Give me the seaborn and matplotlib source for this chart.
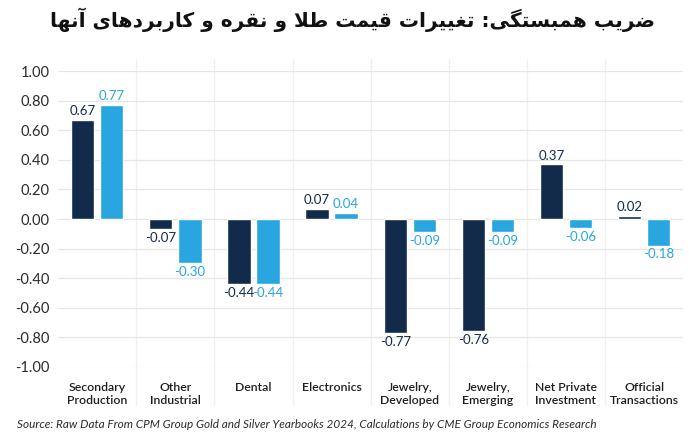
import matplotlib
matplotlib.use("Agg")
import matplotlib.pyplot as plt
import matplotlib.transforms as mtransforms
import seaborn as sns
import pandas as pd

# data
categories = ["Secondary\nProduction", "Other\nIndustrial", "Dental", "Electronics",
              "Jewelry,\nDeveloped", "Jewelry,\nEmerging", "Net Private\nInvestment",
              "Official\nTransactions"]
gold_corr = [0.67, -0.07, -0.44, 0.07, -0.77, -0.76, 0.37, 0.02]
silver_corr = [0.77, -0.30, -0.44, 0.04, -0.09, -0.09, -0.06, -0.18]
y_ticks = [1.0, 0.8, 0.6, 0.4, 0.2, 0.0, -0.2, -0.4, -0.6, -0.8, -1.0]

title_fa = "ضریب همبستگی: تغییرات قیمت طلا و نقره و کاربردهای آنها"
source_text = ("Source: Raw Data From CPM Group Gold and Silver Yearbooks 2024, "
               "Calculations by CME Group Economics Research")

DARK = "#132b4b"
LIGHT = "#29a6df"

# --- minimal Persian shaping (matplotlib has no bidi/shaping) ---
FORMS = {  # isolated, final, initial, medial
    "ا": ("\uFE8D", "\uFE8E"), "آ": ("\uFE81", "\uFE82"),
    "د": ("\uFEA9", "\uFEAA"), "ر": ("\uFEAD", "\uFEAE"), "و": ("\uFEED", "\uFEEE"),
    "ب": ("\uFE8F", "\uFE90", "\uFE91", "\uFE92"),
    "ت": ("\uFE95", "\uFE96", "\uFE97", "\uFE98"),
    "س": ("\uFEB1", "\uFEB2", "\uFEB3", "\uFEB4"),
    "ض": ("\uFEBD", "\uFEBE", "\uFEBF", "\uFEC0"),
    "ط": ("\uFEC1", "\uFEC2", "\uFEC3", "\uFEC4"),
    "غ": ("\uFECD", "\uFECE", "\uFECF", "\uFED0"),
    "ق": ("\uFED5", "\uFED6", "\uFED7", "\uFED8"),
    "ل": ("\uFEDD", "\uFEDE", "\uFEDF", "\uFEE0"),
    "م": ("\uFEE1", "\uFEE2", "\uFEE3", "\uFEE4"),
    "ن": ("\uFEE5", "\uFEE6", "\uFEE7", "\uFEE8"),
    "ه": ("\uFEE9", "\uFEEA", "\uFEEB", "\uFEEC"),
    "ی": ("\uFBFC", "\uFBFD", "\uFBFE", "\uFBFF"),
    "ک": ("\uFB8E", "\uFB8F", "\uFB90", "\uFB91"),
    "گ": ("\uFB92", "\uFB93", "\uFB94", "\uFB95"),
}


def shape_fa(text):
    out = []
    chars = list(text)
    i = 0
    while i < len(chars):
        c = chars[i]
        if c not in FORMS:
            out.append(c)
            i += 1
            continue
        prev = chars[i - 1] if i > 0 else ""
        joins_prev = prev in FORMS and len(FORMS[prev]) == 4
        # lam-alef ligature
        if c == "ل" and i + 1 < len(chars) and chars[i + 1] == "ا":
            out.append("\uFEFC" if joins_prev else "\uFEFB")
            i += 2
            continue
        nxt = chars[i + 1] if i + 1 < len(chars) else ""
        joins_next = len(FORMS[c]) == 4 and nxt in FORMS
        f = FORMS[c]
        if joins_prev and joins_next:
            out.append(f[3])
        elif joins_prev:
            out.append(f[1])
        elif joins_next:
            out.append(f[2])
        else:
            out.append(f[0])
        i += 1
    return "".join(reversed(out))


df = pd.DataFrame({
    "category": categories * 2,
    "value": gold_corr + silver_corr,
    "series": ["gold"] * len(categories) + ["silver"] * len(categories),
})

sns.set_theme(style="white")
plt.rcParams["font.family"] = ["Lato", "DejaVu Sans"]

fig = plt.figure(figsize=(7, 4.47), dpi=100)
ax = fig.add_axes([0.083, 0.179, 0.893, 0.662])

sns.barplot(data=df, x="category", y="value", hue="series",
            palette=[DARK, LIGHT], saturation=1, width=0.745, gap=0.2,
            legend=False, ax=ax)

for cont, col in zip(ax.containers, [DARK, LIGHT]):
    ax.bar_label(cont, fmt="%.2f", padding=2, color=col, fontsize=9.5)

ax.set_ylim(-1.0, 1.0)
ax.set_xlim(-0.5, len(categories) - 0.5)
ax.set_yticks(y_ticks)
ax.set_yticklabels([f"{v:.2f}" for v in y_ticks], color="#2b2b2b", fontsize=10.5)
ax.set_xticks(range(len(categories)))
ax.set_xticklabels(categories, fontsize=8.8, color="#1e1e1e", fontweight="semibold")
ax.tick_params(axis="both", length=0)
ax.tick_params(axis="x", pad=11)
ax.tick_params(axis="y", pad=6)
ax.set_xlabel("")
ax.set_ylabel("")
for s in ax.spines.values():
    s.set_visible(False)

ax.yaxis.grid(True, color="#e6e6e6", linewidth=0.9)
ax.set_axisbelow(True)

# vertical separators between categories, running down through the label area
trans = mtransforms.blended_transform_factory(ax.transData, ax.transAxes)
for b in [k + 0.5 for k in range(len(categories) - 1)]:
    ax.plot([b, b], [-0.13, 1.04], transform=trans, color="#efefef",
            linewidth=0.9, clip_on=False, zorder=0)

fig.text(0.504, 0.955, shape_fa(title_fa), ha="center", va="center",
         fontsize=14.5, fontweight="bold", family="DejaVu Sans", color="#111111")
fig.text(0.024, 0.05, source_text, ha="left", va="center", fontsize=8.5,
         style="italic", color="#2b2b2b")

fig.savefig("out.png", dpi=100, facecolor="white")
